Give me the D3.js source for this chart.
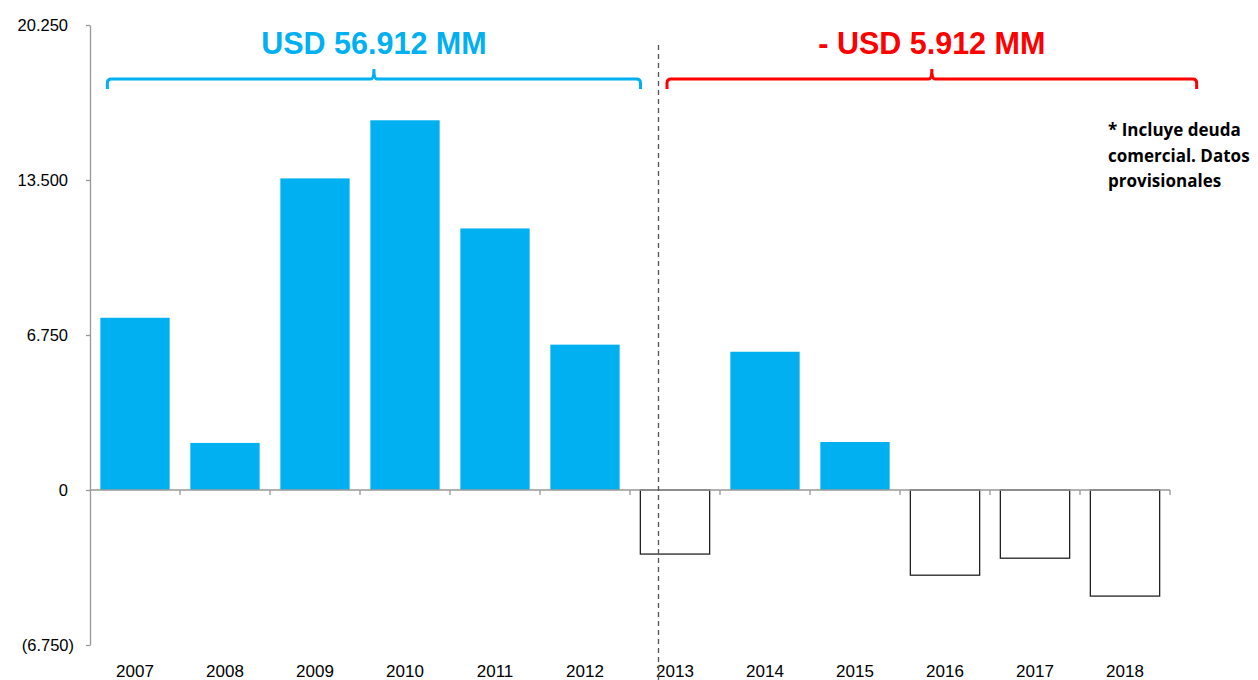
<!DOCTYPE html>
<html>
<head>
<meta charset="utf-8">
<script src="https://cdn.jsdelivr.net/npm/d3@7"></script>
<style>
  body { margin: 0; background: #fff; }
  svg { display: block; font-family: "Liberation Sans", Arial, sans-serif; }
</style>
</head>
<body>
<div id="chart"></div>
<script>
const years = ["2007", "2008", "2009", "2010", "2011", "2012", "2013", "2014", "2015", "2016", "2017", "2018"];
const values = [7500, 2050, 13570, 16100, 11390, 6330, -2790, 6020, 2090, -3710, -2970, -4620];
const yTicks = [-6750, 0, 6750, 13500, 20250];
const groupLabels = ["USD 56.912 MM", "- USD 5.912 MM"];
const groupColors = ["#00B0F0", "#FF0000"];
const noteLines = ["* Incluye deuda", "comercial. Datos", "provisionales"];

const width = 1258, height = 680;
const margin = { top: 25, right: 88, bottom: 35, left: 90 };

const svg = d3.select("#chart").append("svg")
  .attr("width", width)
  .attr("height", height);

const x = d3.scaleBand()
  .domain(years)
  .range([margin.left, margin.left + 90 * years.length])
  .paddingInner(0.23)
  .paddingOuter(0.115);

const y = d3.scaleLinear()
  .domain([-6750, 20250])
  .range([height - margin.bottom, margin.top]);

const fmt = (v) => {
  const s = d3.format(",")(Math.abs(v)).replace(/,/g, ".");
  return v < 0 ? `(${s})` : s;
};

// bars
svg.append("g")
  .selectAll("rect")
  .data(values)
  .join("rect")
  .attr("x", (d, i) => x(years[i]))
  .attr("y", (d) => y(Math.max(0, d)))
  .attr("width", x.bandwidth())
  .attr("height", (d) => Math.abs(y(d) - y(0)))
  .attr("fill", (d) => (d >= 0 ? "#00B0F0" : "#fff"))
  .attr("stroke", (d) => (d >= 0 ? "none" : "#222"))
  .attr("stroke-width", 1.3);

// y axis
const yAxis = svg.append("g")
  .attr("transform", `translate(${margin.left},0)`)
  .call(d3.axisLeft(y).tickValues(yTicks).tickFormat(fmt).tickSize(4).tickSizeOuter(0));
yAxis.select(".domain").attr("stroke", "#999").attr("stroke-width", 1.3);
yAxis.selectAll(".tick line").attr("stroke", "#999").attr("stroke-width", 1.3);
yAxis.selectAll(".tick text")
  .attr("x", (d) => (d < 0 ? -16 : -22))
  .attr("font-size", 16.5)
  .attr("fill", "#000");

// x axis along zero line, ticks between categories
const x0 = x.range()[0], x1 = x.range()[1];
const step = x.step();
const xAxisG = svg.append("g");
xAxisG.append("line")
  .attr("x1", x0).attr("x2", x1)
  .attr("y1", y(0)).attr("y2", y(0))
  .attr("stroke", "#999").attr("stroke-width", 1.3);
xAxisG.selectAll(".xt")
  .data(years)
  .join("line")
  .attr("x1", (d) => x(d) + x.bandwidth() / 2 + step / 2)
  .attr("x2", (d) => x(d) + x.bandwidth() / 2 + step / 2)
  .attr("y1", y(0))
  .attr("y2", y(0) + 5)
  .attr("stroke", "#999")
  .attr("stroke-width", 1.3);
xAxisG.selectAll(".xl")
  .data(years)
  .join("text")
  .attr("x", (d) => x(d) + x.bandwidth() / 2)
  .attr("y", 677)
  .attr("text-anchor", "middle")
  .attr("font-size", 17)
  .attr("fill", "#000")
  .text((d) => d);

// dashed divider
const divX = 658.5;
svg.append("line")
  .attr("x1", divX).attr("x2", divX)
  .attr("y1", 45).attr("y2", height)
  .attr("stroke", "#555")
  .attr("stroke-width", 1.3)
  .attr("stroke-dasharray", "5,4");

// braces
const braceY = 79, r = 4, drop = 10;
const braceExtents = [
  [x("2007") + 7, divX - 18],
  [divX + 8.5, x("2018") + x.bandwidth() + 37],
];
groupLabels.forEach((label, i) => {
  const [left, right] = braceExtents[i];
  const mid = (left + right) / 2;
  const path = `M${left},${braceY + drop} L${left},${braceY + r} Q${left},${braceY} ${left + r},${braceY}
    L${mid - 3},${braceY} Q${mid},${braceY} ${mid},${braceY - 10} Q${mid},${braceY} ${mid + 3},${braceY}
    L${right - r},${braceY} Q${right},${braceY} ${right},${braceY + r} L${right},${braceY + drop}`;
  svg.append("path")
    .attr("d", path)
    .attr("fill", "none")
    .attr("stroke", groupColors[i])
    .attr("stroke-width", 3);
  svg.append("text")
    .attr("x", mid)
    .attr("y", 54)
    .attr("text-anchor", "middle")
    .attr("font-size", 30.5)
    .attr("font-weight", "bold")
    .attr("fill", groupColors[i])
    .text(label);
});

// note
svg.append("g")
  .selectAll("text")
  .data(noteLines)
  .join("text")
  .attr("x", 1108)
  .attr("y", (d, i) => 136 + i * 25.5)
  .attr("font-family", "'Open Sans', sans-serif")
  .attr("font-size", 17)
  .attr("font-weight", "bold")
  .attr("fill", "#000")
  .text((d) => d);
</script>
</body>
</html>
